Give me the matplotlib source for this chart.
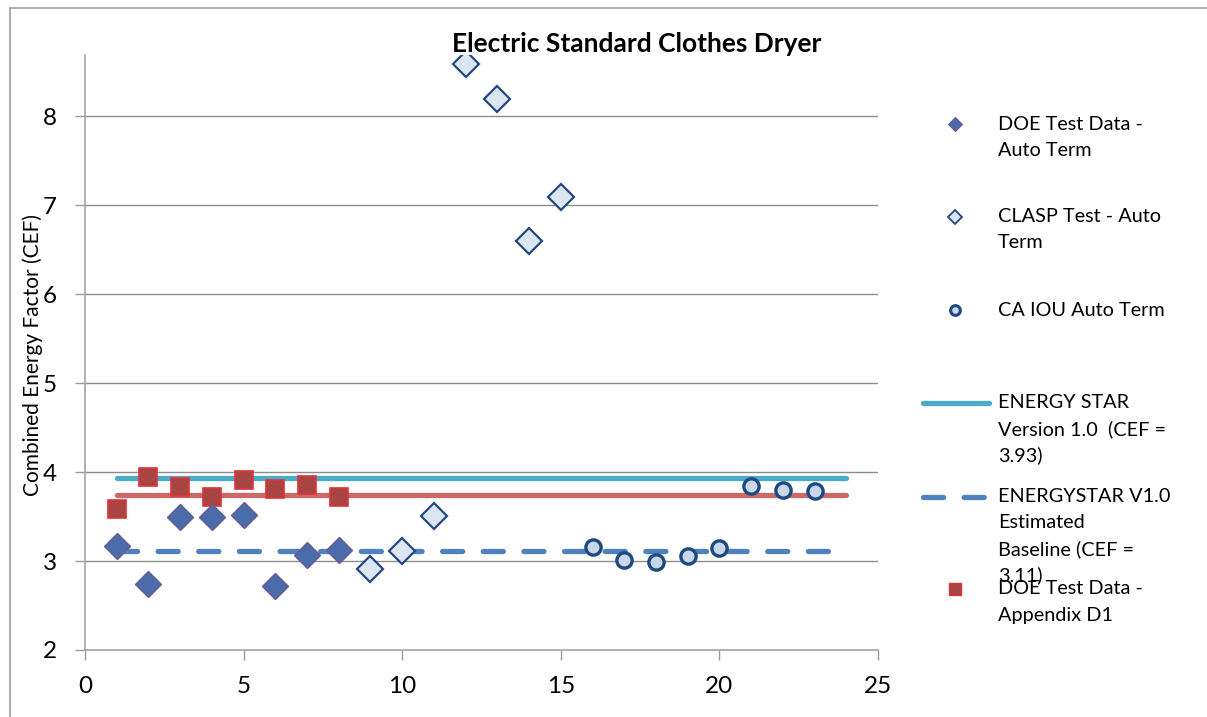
import matplotlib
matplotlib.use("Agg")
import matplotlib.pyplot as plt
from matplotlib.lines import Line2D

plt.rcParams['font.family'] = ['Lato', 'DejaVu Sans']

# ---- data ----
doe_auto_x = [1, 2, 3, 4, 5, 6, 7, 8]
doe_auto_y = [3.17, 2.74, 3.49, 3.49, 3.52, 2.72, 3.07, 3.12]

clasp_x = [9, 10, 11, 12, 13, 14, 15]
clasp_y = [2.91, 3.11, 3.51, 8.59, 8.19, 6.60, 7.09]

caiou_x = [16, 17, 18, 19, 20, 21, 22, 23]
caiou_y = [3.16, 3.01, 2.99, 3.06, 3.15, 3.84, 3.80, 3.79]

doe_d1_x = [1, 2, 3, 4, 5, 6, 7, 8]
doe_d1_y = [3.58, 3.94, 3.83, 3.72, 3.91, 3.81, 3.85, 3.72]

line_x = [1, 24]
estar_y = [3.93, 3.93]
baseline_y = [3.11, 3.11]
d1_avg_y = [3.74, 3.74]

legend_labels = [
    "DOE Test Data -\nAuto Term",
    "CLASP Test - Auto\nTerm",
    "CA IOU Auto Term",
    "ENERGY STAR\nVersion 1.0  (CEF =\n3.93)",
    "ENERGYSTAR V1.0\nEstimated\nBaseline (CEF =\n3.11)",
    "DOE Test Data -\nAppendix D1",
]
title = "Electric Standard Clothes Dryer"
ylabel = "Combined Energy Factor (CEF)"
xticks = [0, 5, 10, 15, 20, 25]
yticks = [2, 3, 4, 5, 6, 7, 8]

W, H = 1207, 717
fig = plt.figure(figsize=(W / 100, H / 100), dpi=100)

def fx(px):
    return px / W

def fy(py):
    return 1 - py / H

ax = fig.add_axes([fx(85), fy(650), fx(878) - fx(85), fy(55) - fy(650)])
ax.set_xlim(0, 25)
ax.set_ylim(2, 8.69)

c_estar = "#4BACC6"
c_base = "#4F81BD"
c_red_line = "#C0504D"

ax.plot(line_x, estar_y, color=c_estar, lw=3.8, solid_capstyle='round', zorder=2)
ax.plot(line_x, d1_avg_y, color=c_red_line, lw=3.8, alpha=0.85, solid_capstyle='round', zorder=2)
ax.plot(line_x, baseline_y, color=c_base, lw=3.8, dashes=(3.8, 3.9), dash_capstyle='round', zorder=2)

ax.plot(doe_auto_x, doe_auto_y, ls='none', marker='D', ms=13, mfc="#4A6CA8",
        mec="#6A5A9C", mew=1.0, zorder=4)
ax.plot(clasp_x, clasp_y, ls='none', marker='D', ms=13, mfc="#DCE6F2",
        mec="#24487E", mew=1.6, zorder=4)
ax.plot(caiou_x, caiou_y, ls='none', marker='o', ms=11, mfc="#C9D7EB",
        mec="#1F4A80", mew=2.4, zorder=4)
ax.plot(doe_d1_x, doe_d1_y, ls='none', marker='s', ms=13.5, mfc="#A84442",
        mec="#E2323A", mew=1.2, zorder=3)

ax.set_xticks(xticks)
ax.set_yticks(yticks)
ax.set_xticklabels([str(v) for v in xticks], fontsize=17.5)
ax.set_yticklabels([str(v) for v in yticks], fontsize=17.5)
ax.tick_params(axis='both', direction='out', length=7, width=1.0, color="#9A9A9A")
ax.tick_params(axis='y', pad=13)
ax.tick_params(axis='x', pad=12)
ax.grid(axis='y', color="#8C8C8C", lw=1.0)
ax.set_axisbelow(True)
for s in ['top', 'right']:
    ax.spines[s].set_visible(False)
for s in ['left', 'bottom']:
    ax.spines[s].set_color("#A6A6A6")
    ax.spines[s].set_linewidth(1.2)

fig.text(fx(33), fy(355), ylabel, rotation=90, ha='center', va='center', fontsize=15)
fig.text(fx(637), fy(44), title, ha='center', va='center', fontsize=19, fontweight='bold')

# outer frame
fig.add_artist(Line2D([fx(10), fx(10)], [fy(8), 0], color="#A0A0A0", lw=1.2))
fig.add_artist(Line2D([fx(10), 1], [fy(8), fy(8)], color="#A0A0A0", lw=1.2))

# ---- legend (manual) ----
text_x = fx(998)
lx = fx(955)
ls_ = 26
entries_y = [124, 217, 310, 403, 497, 589]
for lab, yy in zip(legend_labels, entries_y):
    for i, line in enumerate(lab.split("\n")):
        fig.text(text_x, fy(yy + i * ls_), line, ha='left', va='center', fontsize=14.3)

fig.add_artist(Line2D([lx], [fy(124)], ls='none', marker='D', ms=7, mfc="#4A6CA8", mec="#6A5A9C", mew=0.8))
fig.add_artist(Line2D([lx], [fy(217)], ls='none', marker='D', ms=7, mfc="#DCE6F2", mec="#24487E", mew=1.3))
fig.add_artist(Line2D([lx], [fy(310)], ls='none', marker='o', ms=7, mfc="#C9D7EB", mec="#1F4A80", mew=2.2))
fig.add_artist(Line2D([fx(923), fx(989)], [fy(403), fy(403)], color=c_estar, lw=3.8, solid_capstyle='round'))
fig.add_artist(Line2D([fx(923), fx(986)], [fy(497), fy(497)], color=c_base, lw=3.8,
                      dashes=(3.8, 3.9), dash_capstyle='round'))
fig.add_artist(Line2D([lx], [fy(589)], ls='none', marker='s', ms=9, mfc="#A84442", mec="#E2323A", mew=1.0))

fig.savefig("out.png", dpi=100)
